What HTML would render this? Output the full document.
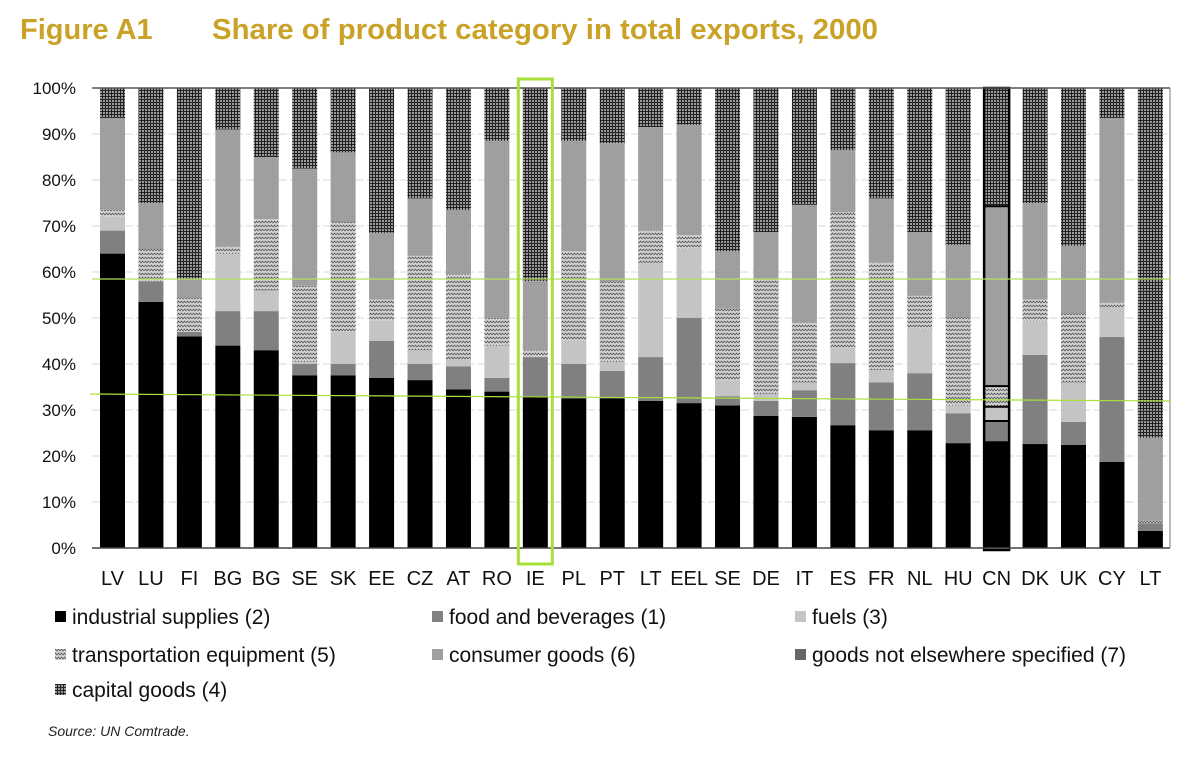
<!DOCTYPE html>
<html><head><meta charset="utf-8"><style>
body{margin:0;background:#fff;width:1190px;height:752px;overflow:hidden;font-family:"Liberation Sans",sans-serif}
</style></head><body>
<svg width="1190" height="752" xmlns="http://www.w3.org/2000/svg" id="chart">
<defs>
<pattern id="pCap" width="3" height="3" patternUnits="userSpaceOnUse"><rect width="3" height="3" fill="#9a9a9a"/><rect width="3" height="1" fill="#222"/><rect width="1" height="3" fill="#222"/></pattern>
<pattern id="pTr" width="6" height="4" patternUnits="userSpaceOnUse"><rect width="6" height="4" fill="#d4d4d4"/><path d="M0,3 L1.5,1 L3,3 L4.5,1 L6,3" stroke="#555" stroke-width="0.8" fill="none"/></pattern>
<pattern id="pCons" width="2" height="2" patternUnits="userSpaceOnUse"><rect width="2" height="2" fill="#a2a2a2"/><rect width="1" height="1" fill="#969696"/></pattern>
</defs>
<text x="20" y="39" font-family="'Liberation Sans Narrow','Liberation Sans',sans-serif" font-weight="bold" font-size="29" fill="#c9a227">Figure A1</text>
<text x="212" y="39" font-family="'Liberation Sans Narrow','Liberation Sans',sans-serif" font-weight="bold" font-size="29" fill="#c9a227" textLength="666" lengthAdjust="spacingAndGlyphs">Share of product category in total exports, 2000</text>
<g id="grid"></g><g id="bars"></g><g id="axes"></g><g id="legend"></g>
<text x="48" y="736" font-size="14" font-style="italic" fill="#222">Source: UN Comtrade.</text>
</svg>
<script>
const categories=["LV","LU","FI","BG","BG","SE","SK","EE","CZ","AT","RO","IE","PL","PT","LT","EEL","SE","DE","IT","ES","FR","NL","HU","CN","DK","UK","CY","LT"];
// cumulative tops (%) per series
const industrial=[64,53.5,46,44,43,37.5,37.5,37,36.5,34.5,34,33,32.5,32.5,32,31.5,31,28.7,28.5,26.7,25.6,25.6,22.8,23,22.6,22.4,18.7,3.7];
const foodTop=[69,58,47,51.5,51.5,40,40,45,40,39.5,37,41.5,40,38.5,41.5,50,33,32,34.3,40.2,36,38,29.3,27.6,42,27.4,45.9,5.4];
const fuelsTop=[72,58,47,64,56,40.5,47,49.5,43,41,44,41.5,45,40.5,62,65,36.5,33.5,36,43.5,38.7,47.6,31,30.7,49.3,36,52.4,5.4];
const transportTop=[73.5,65,54.5,65.5,71.5,57,71,54,63.5,59.5,50,43,64.5,58,69,68,52,58.3,49,73,62,54.8,50.2,35.2,54,51,53.3,5.9];
const consumerTop=[93.5,75,58.5,91,85,82.5,86,68.5,76,73.5,88.5,58,88.5,88,91.5,92,64.5,68.7,74.6,86.5,76,68.7,65.9,74.3,75,65.7,93.5,24];
const yTicks=["0%","10%","20%","30%","40%","50%","60%","70%","80%","90%","100%"];
const NS="http://www.w3.org/2000/svg";
const y0=548,y1=88,xL=92,xR=1170;
const yS=v=>y0-(y0-y1)*v/100;
const xS=i=>112.5+i*38.44;
function mk(t,a,p){const e=document.createElementNS(NS,t);for(const k in a)e.setAttribute(k,a[k]);p.appendChild(e);return e;}
const grid=document.getElementById('grid'),bars=document.getElementById('bars'),axes=document.getElementById('axes'),leg=document.getElementById('legend');
yTicks.forEach((t,i)=>{const v=i*10,y=yS(v);
 if(i>0&&i<10){const g=mk('line',{x1:xL,x2:xR,y1:y,y2:y,stroke:'#d8d8d8','stroke-dasharray':'8,3'},grid);
 
 }
 const l=mk('text',{x:76,y:y+6,'text-anchor':'end','font-size':17,fill:'#111'},axes);l.textContent=t;
 
 
});
const fills=['#000','#808080','#c4c4c4','url(#pTr)','url(#pCons)','url(#pCap)'];
const names=['industrial','food','fuels','transport','consumer','capital'];
categories.forEach((c,i)=>{
 const tops=[industrial[i],foodTop[i],fuelsTop[i],transportTop[i],consumerTop[i],100];
 let prev=0;const x=xS(i)-12.5;
 tops.forEach((t,k)=>{if(t>prev){const r=mk('rect',{x:x,y:yS(t),width:25,height:yS(prev)-yS(t),fill:fills[k]},bars);
  
  }prev=Math.max(prev,t);});
 if(c==='CN'){tops.slice(0,5).forEach(t=>{mk('line',{x1:x,x2:x+25,y1:yS(t),y2:yS(t),stroke:'#000','stroke-width':2},bars);});
  const o=mk('rect',{x:x,y:y1,width:25,height:y0-y1+2,fill:'none',stroke:'#000','stroke-width':2.5},bars);
  
  }
 const l=mk('text',{x:xS(i),y:585,'text-anchor':'middle','font-size':20,fill:'#111'},axes);l.textContent=c;
 
 
});
mk('line',{x1:xL,x2:xR,y1:y1,y2:y1,stroke:'#555','stroke-width':1.5},axes);
mk('line',{x1:xL,x2:xR,y1:y0,y2:y0,stroke:'#444','stroke-width':1.5},axes);
mk('line',{x1:xR,x2:xR,y1:y1,y2:y0,stroke:'#777','stroke-width':1},axes);
const gl1=mk('line',{x1:xL,x2:xR,y1:279,y2:279,stroke:'#b5e05a','stroke-width':1.2},axes);


const gl2=mk('line',{x1:xL-2,x2:xR,y1:394,y2:401,stroke:'#a8e03a','stroke-width':1.2},axes);


const ie=mk('rect',{x:xS(11)-17,y:79,width:34,height:485,fill:'none',stroke:'#a8e03a','stroke-width':3},axes);


const legItems=[["industrial supplies (2)",'#000',55,624],["food and beverages (1)",'#808080',432,624],["fuels (3)",'#c4c4c4',795,624],["transportation equipment (5)",'url(#pTr)',55,662],["consumer goods (6)",'url(#pCons)',432,662],["goods not elsewhere specified (7)",'#666',795,662],["capital goods (4)",'url(#pCap)',55,697]];
legItems.forEach(([t,f,x,y])=>{
 const g=mk('g',{},leg);
 
 
 mk('rect',{x:x,y:y-13,width:11,height:11,fill:f},g);
 const tx=mk('text',{x:x+17,y:y,'font-size':21,fill:'#111'},g);tx.textContent=t;
});
</script>
</body></html>
